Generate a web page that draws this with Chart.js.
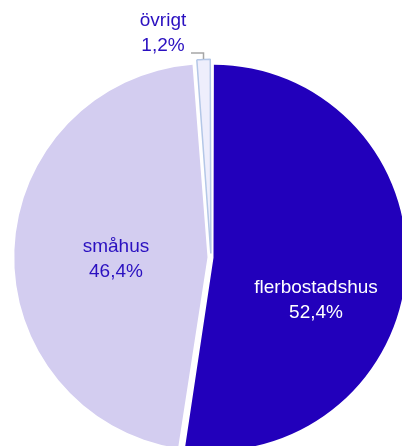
<!DOCTYPE html>
<html>
<head>
<meta charset="utf-8">
<script src="https://cdn.jsdelivr.net/npm/chart.js@4.4.1/dist/chart.umd.min.js"></script>
<style>
  html, body { margin: 0; padding: 0; background: #fff; }
  #wrap { position: relative; width: 402px; height: 446px; overflow: hidden; }
  #pie { position: absolute; left: 0; top: 0; }
</style>
</head>
<body>
<div id="wrap"><canvas id="pie" width="422" height="515"></canvas></div>
<script>
// andel per bostadstyp (%)
const categories = ['flerbostadshus', 'småhus', 'övrigt'];
const shares = [52.4, 46.4, 1.2];
const shareLabels = ['52,4%', '46,4%', '1,2%'];

// utseende
const sliceColors = ['#2200BB', '#D3CDF0', '#EEEEFC'];
const sliceBorders = ['#2200BB', '#D3CDF0', '#B4C7E7'];
const sliceBorderWidths = [0, 0, 1.5];
const sliceOffsets = [10, 14, 16];   // Chart.js flyttar bitarna offset/4 px
const textColors = ['#FFFFFF', '#2A10C0', '#2A10C0'];

// var etiketten hamnar: andel av radien + vridning (grader) från bitens mittvinkel
const labelPlace = [
    { r: 0.576, turn: 18.4 },
    { r: 0.474, turn: -3.5 },
    null
];

const labelPlugin = {
    id: 'pieLabels',
    afterDatasetsDraw(chart) {
        const ctx = chart.ctx;
        const arcs = chart.getDatasetMeta(0).data;
        ctx.save();
        ctx.font = '19px "Liberation Sans", Arial, sans-serif';
        ctx.textAlign = 'center';
        ctx.textBaseline = 'middle';

        arcs.forEach((arc, i) => {
            const p = arc.getProps(['x', 'y', 'startAngle', 'endAngle', 'outerRadius'], true);
            const mid = (p.startAngle + p.endAngle) / 2;
            const shift = sliceOffsets[i] / 4;
            const cx = p.x + Math.cos(mid) * shift;
            const cy = p.y + Math.sin(mid) * shift;
            const circ = p.endAngle - p.startAngle;
            const R = p.outerRadius + shift * (1 - Math.sin(Math.min(Math.PI, circ)));
            ctx.fillStyle = textColors[i];

            const place = labelPlace[i];
            if (place) {
                const a = mid + place.turn * Math.PI / 180;
                const lx = cx + Math.cos(a) * R * place.r;
                const ly = cy + Math.sin(a) * R * place.r;
                ctx.fillText(categories[i], lx, ly - 12.5);
                ctx.fillText(shareLabels[i], lx, ly + 12.5);
                return;
            }

            // liten bit: etikett utanför med hänvisningslinje
            const ex = cx + Math.cos(mid) * (R + 0.5);
            const ey = cy + Math.sin(mid) * (R + 0.5);
            const elbowY = ey - 6;
            ctx.strokeStyle = '#A6A6A6';
            ctx.lineWidth = 1.5;
            ctx.beginPath();
            ctx.moveTo(ex - 12.5, elbowY);
            ctx.lineTo(ex, elbowY);
            ctx.lineTo(ex, ey);
            ctx.stroke();
            const tx = ex - 40.5;
            ctx.fillText(shareLabels[i], tx, elbowY - 7);
            ctx.fillText(categories[i], tx, elbowY - 32);
        });
        ctx.restore();
    }
};

new Chart(document.getElementById('pie'), {
    type: 'pie',
    data: {
        labels: categories,
        datasets: [{
            data: shares,
            backgroundColor: sliceColors,
            borderColor: sliceBorders,
            borderWidth: sliceBorderWidths,
            offset: sliceOffsets
        }]
    },
    options: {
        responsive: false,
        animation: false,
        radius: 190.5,
        layout: { padding: 0 },
        events: [],
        plugins: {
            legend: { display: false },
            tooltip: { enabled: false }
        }
    },
    plugins: [labelPlugin]
});
</script>
</body>
</html>
